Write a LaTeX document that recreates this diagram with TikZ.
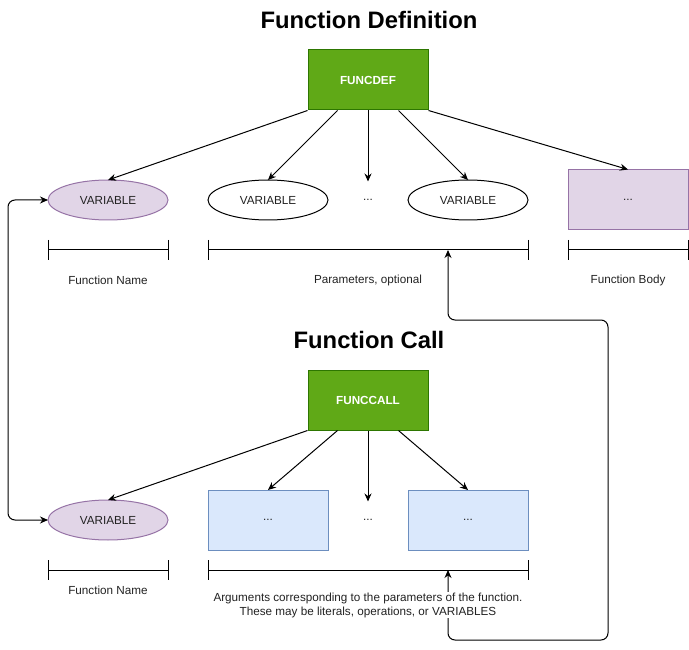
\documentclass[tikz,border=0pt]{standalone}
\usepackage{fontspec}
\setmainfont{Liberation Sans}
\usetikzlibrary{positioning,arrows.meta,shapes.geometric}
\definecolor{kwgreen}{HTML}{60A917}
\definecolor{kwgreenline}{HTML}{2D7600}
\definecolor{lilac}{HTML}{E1D5E7}
\definecolor{lilacline}{HTML}{9673A6}
\definecolor{paleblue}{HTML}{DAE8FC}
\definecolor{paleblueline}{HTML}{6C8EBF}
\definecolor{txt}{HTML}{222222}

\begin{document}
\begin{tikzpicture}[x=1pt,y=-1pt,line width=1pt,>={Stealth[length=8pt,width=7pt]},
  node distance=40pt,
  every node/.style={text=txt,font=\fontsize{11.7}{14}\selectfont},
  title/.style={font=\fontsize{23.8}{28}\selectfont\bfseries,text=black},
  kw/.style={draw=kwgreenline,fill=kwgreen,text=white,font=\fontsize{11.7}{14}\selectfont\bfseries,
    minimum width=120pt,minimum height=60pt,inner sep=0pt},
  var/.style={ellipse,draw,minimum width=120pt,minimum height=40pt,inner sep=0pt,outer sep=0pt},
  namevar/.style={var,draw=lilacline,fill=lilac},
  body/.style={draw=lilacline,fill=lilac,minimum width=120pt,minimum height=60pt,inner sep=0pt},
  argbox/.style={draw=paleblueline,fill=paleblue,minimum width=120pt,minimum height=60pt,inner sep=0pt,outer sep=0pt},
  gap/.style={minimum height=36pt,inner sep=0pt},
  brace/.style={line width=1pt}]
\useasboundingbox (0,0) rectangle (689,650);

% definition
\node[title] (deftitle) at (369,20) {Function Definition};
\node[kw] (def) at (368,80) {FUNCDEF};
\node[namevar] (dname) at (108,200) {VARIABLE};
\node[var,right=of dname] (dpar1) {VARIABLE};
\node[var,right=80pt of dpar1] (dpar2) {VARIABLE};
\node[gap] (dgap) at (368,200) {...};
\node[body] (dbody) at (628,200) {...};
\draw[->] (def.south west) -- (dname.north);
\draw[->] ([xshift=30pt]def.south west) -- (dpar1.north);
\draw[->] (def.south) -- (dgap.north);
\draw[->] ([xshift=-30pt]def.south east) -- (dpar2.north);
\draw[->] (def.south east) -- (dbody.north);

\draw[brace] (48,240) -- (48,260) (48,250) -- (168,250) (168,240) -- (168,260);
\draw[brace] (208,240) -- (208,260) (208,250) -- (528,250) (528,240) -- (528,260);
\draw[brace] (568,240) -- (568,260) (568,250) -- (688,250) (688,240) -- (688,260);
\coordinate (parend) at (448,250);
\node (dnamelbl) at (108,280) {Function Name};
\node (dparlbl) at (368,280) {Parameters, optional};
\node (dbodylbl) at (628,280) {Function Body};

% call
\node[title] (calltitle) at (369,340) {Function Call};
\node[kw] (call) at (368,400) {FUNCCALL};
\node[namevar] (cname) at (108,520) {VARIABLE};
\node[argbox,right=of cname] (carg1) {...};
\node[argbox,right=80pt of carg1] (carg2) {...};
\node[gap] (cgap) at (368,520) {...};
\draw[->] (call.south west) -- (cname.north);
\draw[->] ([xshift=30pt]call.south west) -- (carg1.north);
\draw[->] (call.south) -- (cgap.north);
\draw[->] ([xshift=-30pt]call.south east) -- (carg2.north);

\draw[brace] (48,560) -- (48,580) (48,570) -- (168,570) (168,560) -- (168,580);
\draw[brace] (208,560) -- (208,580) (208,570) -- (528,570) (528,560) -- (528,580);
\coordinate (argend) at (448,570);

% links
\draw[<->,rounded corners=7pt] (dname.west) -- ++(-40,0) |- (cname.west);
\draw[<->,rounded corners=7pt] (argend) -- ++(0,70) -- ++(160,0) -- ++(0,-320) -- ++(-160,0) -- (parend);

\node (cnamelbl) at (108,590) {Function Name};
\node[fill=white,align=center,inner sep=1pt] (carglbl) at (368,605)
  {Arguments corresponding to the parameters of the function.\\These may be literals, operations, or VARIABLES};
\end{tikzpicture}
\end{document}
